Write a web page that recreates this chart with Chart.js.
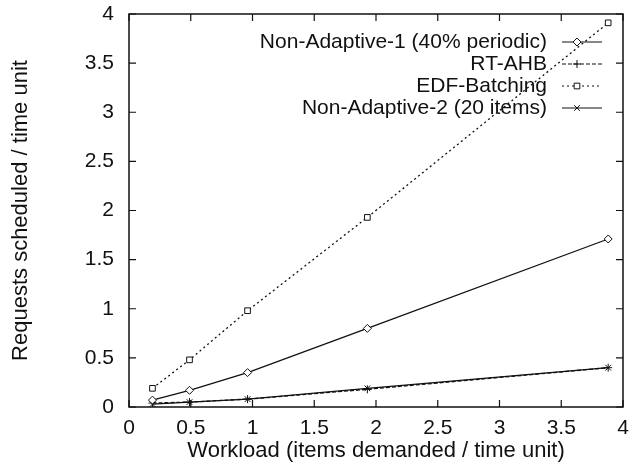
<!DOCTYPE html>
<html>
<head>
<meta charset="utf-8">
<script src="https://cdn.jsdelivr.net/npm/chart.js@4/dist/chart.umd.min.js"></script>
<style>
  html, body { margin: 0; padding: 0; background: #fff; }
  #wrap { width: 635px; height: 465px; }
</style>
</head>
<body>
<div id="wrap"><canvas id="myChart" width="635" height="465"></canvas></div>
<script>
const workload = [0.19, 0.49, 0.96, 1.93, 3.88];
const nonAdaptive1 = [0.07, 0.17, 0.35, 0.80, 1.71];
const rtAhb = [0.04, 0.05, 0.08, 0.18, 0.40];
const edfBatching = [0.19, 0.48, 0.98, 1.93, 3.91];
const nonAdaptive2 = [0.03, 0.05, 0.08, 0.19, 0.40];
const tickValues = [0, 0.5, 1, 1.5, 2, 2.5, 3, 3.5, 4];

const FONT = "'Liberation Sans', Arial, sans-serif";
const FSIZE = 21;

const toPts = (ys) => ys.map((y, i) => ({ x: workload[i], y: y }));

const series = [
  { label: "Non-Adaptive-1 (40% periodic)", data: nonAdaptive1, style: "rectRot", dash: [], radius: 4 },
  { label: "RT-AHB", data: rtAhb, style: "cross", dash: [4, 2], radius: 4 },
  { label: "EDF-Batching", data: edfBatching, style: "rect", dash: [2, 3], radius: 4 },
  { label: "Non-Adaptive-2 (20 items)", data: nonAdaptive2, style: "crossRot", dash: [], radius: 4 }
];

// gnuplot-like frame with inward ticks + legend on the right
const framePlugin = {
  id: "frame",
  afterDatasetsDraw(chart) {
    const ctx = chart.ctx;
    const a = chart.chartArea;
    const xs = chart.scales.x, ys = chart.scales.y;
    ctx.save();
    ctx.strokeStyle = "#111";
    ctx.lineWidth = 1.5;
    ctx.setLineDash([]);
    ctx.strokeRect(a.left, a.top, a.right - a.left, a.bottom - a.top);
    ctx.lineWidth = 1.2;
    const len = 7;
    tickValues.forEach(v => {
      const px = xs.getPixelForValue(v);
      const py = ys.getPixelForValue(v);
      ctx.beginPath();
      ctx.moveTo(px, a.bottom); ctx.lineTo(px, a.bottom - len);
      ctx.moveTo(px, a.top); ctx.lineTo(px, a.top + len);
      ctx.moveTo(a.left, py); ctx.lineTo(a.left + len, py);
      ctx.moveTo(a.right, py); ctx.lineTo(a.right - len, py);
      ctx.stroke();
    });

    // legend
    ctx.font = FSIZE + "px " + FONT;
    ctx.textAlign = "right";
    ctx.textBaseline = "middle";
    const textRight = a.right - 76;
    chart.data.datasets.forEach((ds, i) => {
      const y = a.top + 28 + i * 22;
      ctx.fillStyle = "#111";
      ctx.fillText(ds.label, textRight, y);
      const x0 = a.right - 61, x1 = a.right - 21;
      ctx.strokeStyle = "#111";
      ctx.lineWidth = 1.2;
      ctx.setLineDash(ds.borderDash);
      ctx.beginPath();
      ctx.moveTo(x0, y); ctx.lineTo(x1, y);
      ctx.stroke();
      ctx.setLineDash([]);
      ctx.fillStyle = "#fff";
      ctx.lineWidth = 1;
      Chart.helpers.drawPoint(ctx, {
        pointStyle: ds.pointStyle, radius: ds.pointRadius, rotation: 0, borderWidth: 1
      }, a.right - 46, y);
    });
    ctx.restore();
  }
};

const ctx = document.getElementById("myChart");
new Chart(ctx, {
  type: "line",
  data: {
    datasets: series.map(s => ({
      label: s.label,
      data: toPts(s.data),
      borderColor: "#111",
      borderWidth: 1.3,
      borderDash: s.dash,
      pointStyle: s.style,
      pointRadius: s.radius,
      pointBorderColor: "#111",
      pointBackgroundColor: "#fff",
      pointBorderWidth: 1,
      fill: false,
      tension: 0
    }))
  },
  options: {
    responsive: false,
    animation: false,
    layout: { padding: { top: 14, right: 12, left: 0, bottom: 0 } },
    plugins: {
      legend: { display: false },
      tooltip: { enabled: false }
    },
    scales: {
      x: {
        type: "linear",
        min: 0, max: 4,
        afterBuildTicks: s => { s.ticks = tickValues.map(v => ({ value: v })); },
        afterFit: s => { s.height = 58; s.paddingLeft = 0; s.paddingRight = 0; },
        grid: { display: false, drawTicks: false },
        border: { display: false },
        ticks: {
          color: "#111",
          font: { family: FONT, size: FSIZE },
          padding: 9,
          maxRotation: 0,
          callback: v => String(v)
        },
        title: {
          display: true,
          text: "Workload (items demanded / time unit)",
          color: "#111",
          font: { family: FONT, size: 22 },
          padding: { top: 0, bottom: 1 }
        }
      },
      y: {
        type: "linear",
        min: 0, max: 4,
        afterBuildTicks: s => { s.ticks = tickValues.map(v => ({ value: v })); },
        afterFit: s => { s.width = 129; s.paddingTop = 0; s.paddingBottom = 0; },
        grid: { display: false, drawTicks: false },
        border: { display: false },
        ticks: {
          color: "#111",
          font: { family: FONT, size: FSIZE },
          padding: 15,
          callback: v => String(v)
        },
        title: {
          display: true,
          text: "Requests scheduled / time unit",
          color: "#111",
          font: { family: FONT, size: 22 },
          padding: { top: 8, bottom: 0 }
        }
      }
    }
  },
  plugins: [framePlugin]
});
</script>
</body>
</html>
